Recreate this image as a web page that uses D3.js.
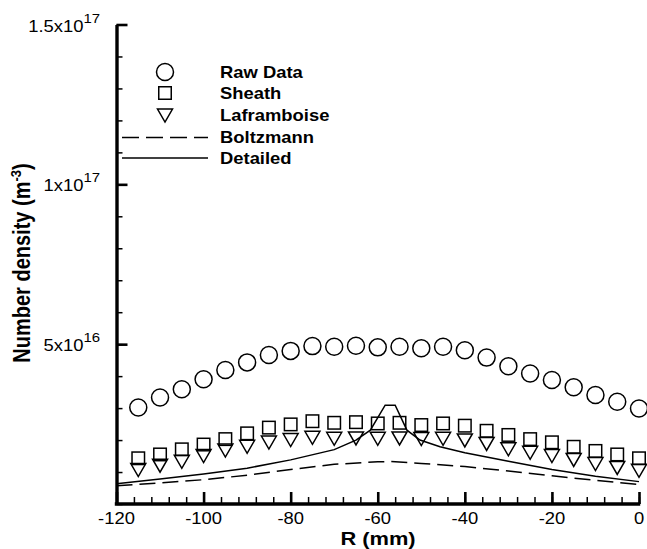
<!DOCTYPE html>
<html>
<head>
<meta charset="utf-8">
<script src="https://cdn.jsdelivr.net/npm/d3@7"></script>
<style>
  body { margin: 0; background: #fff; }
  svg { display: block; font-family: "Liberation Sans", Arial, Helvetica, sans-serif; }
</style>
</head>
<body>
<svg width="647" height="549"></svg>
<script>
'use strict';

// values, densities in units of 1e16 m^-3
var radius = [-115, -110, -105, -100, -95, -90, -85, -80, -75, -70, -65, -60,
              -55, -50, -45, -40, -35, -30, -25, -20, -15, -10, -5, 0];
var rawData = [3.02, 3.33, 3.59, 3.90, 4.19, 4.43, 4.66, 4.79, 4.94, 4.92, 4.95, 4.90,
               4.92, 4.87, 4.92, 4.81, 4.58, 4.31, 4.08, 3.88, 3.65, 3.41, 3.20, 2.99];
var sheath = [1.43, 1.55, 1.71, 1.86, 2.03, 2.21, 2.39, 2.49, 2.59, 2.54, 2.56, 2.52,
              2.54, 2.47, 2.52, 2.45, 2.29, 2.16, 2.03, 1.93, 1.79, 1.66, 1.55, 1.43];
var laframboise = [1.06, 1.20, 1.32, 1.50, 1.67, 1.79, 1.92, 2.00, 2.07, 2.04, 2.05, 2.04,
                   2.05, 2.03, 2.04, 1.99, 1.88, 1.71, 1.60, 1.50, 1.38, 1.25, 1.13, 1.04];

var boltzmannR = [-120, -110, -100, -90, -80, -70, -60, -57, -50, -40, -30, -20, -10, 0];
var boltzmann = [0.57, 0.66, 0.76, 0.90, 1.08, 1.24, 1.32, 1.33, 1.27, 1.17, 1.03, 0.88, 0.74, 0.61];

var detailedR = [-120, -110, -100, -90, -80, -70, -65, -61.7, -58.3, -56, -53.3, -50.3, -45.7,
                 -40, -30, -20, -10, 0];
var detailed = [0.63, 0.78, 0.94, 1.12, 1.38, 1.70, 2.00, 2.31, 3.09, 3.09, 2.31, 2.00, 1.79,
                1.60, 1.34, 1.08, 0.87, 0.70];

var xTicks = [-120, -100, -80, -60, -40, -20, 0];
var yTicks = [5, 10, 15];
var yTickBase = ['5x10', '1x10', '1.5x10'];
var yTickExp = ['16', '17', '17'];
var legendNames = ['Raw Data', 'Sheath', 'Laframboise', 'Boltzmann', 'Detailed'];

var svg = d3.select('svg');
var stretch = 1.15; // the picture is a bit wider than tall

var x = d3.scaleLinear().domain([-120, 0]).range([116.5, 639]);
var y = d3.scaleLinear().domain([0, 15]).range([504, 24.5]);

// stretched text helper
function label(g, tx, ty, anchor, size, weight) {
  return g.append('text')
    .attr('transform', 'translate(' + tx + ',' + ty + ') scale(' + stretch + ',1)')
    .attr('text-anchor', anchor)
    .style('font-size', size + 'px')
    .style('font-weight', weight || 'normal')
    .attr('fill', '#000');
}

/* axes */
var minorY = d3.range(0, 16, 1);
var minorX = d3.range(-120, 1, 4);

svg.append('g')
  .attr('transform', 'translate(' + x(-120) + ',0)')
  .call(d3.axisLeft(y).tickValues(minorY).tickSize(-6).tickSizeOuter(0).tickFormat(''))
  .call(function (g) {
    g.select('.domain').remove();
    g.selectAll('line').attr('stroke', '#000').attr('stroke-width', 1.5);
  });
svg.append('g')
  .attr('transform', 'translate(' + x(-120) + ',0)')
  .call(d3.axisLeft(y).tickValues(yTicks).tickSize(-11).tickSizeOuter(0).tickFormat(''))
  .call(function (g) {
    g.select('.domain').attr('stroke', '#000').attr('stroke-width', 3.4);
    g.selectAll('line').attr('stroke', '#000').attr('stroke-width', 2.6);
  });

svg.append('g')
  .attr('transform', 'translate(0,' + y(0) + ')')
  .call(d3.axisBottom(x).tickValues(minorX).tickSize(-7).tickSizeOuter(0).tickFormat(''))
  .call(function (g) {
    g.select('.domain').remove();
    g.selectAll('line').attr('stroke', '#000').attr('stroke-width', 1.5);
  });
svg.append('g')
  .attr('transform', 'translate(0,' + y(0) + ')')
  .call(d3.axisBottom(x).tickValues(xTicks).tickSize(-12).tickSizeOuter(0).tickFormat(''))
  .call(function (g) {
    g.select('.domain').attr('stroke', '#000').attr('stroke-width', 3.4)
      .attr('d', 'M' + (x(-120) - 1.7) + ',0H' + (x(0) + 1.2));
    g.selectAll('line').attr('stroke', '#000').attr('stroke-width', 2.6);
  });

/* tick labels */
xTicks.forEach(function (t) {
  label(svg, x(t), 524, 'middle', 16).text(t);
});
yTicks.forEach(function (t, i) {
  var tx = label(svg, 100, y(t) + 7, 'end', 16);
  tx.append('tspan').text(yTickBase[i]);
  tx.append('tspan').attr('dy', -9).style('font-size', '13px').text(yTickExp[i]);
});

/* axis titles */
label(svg, 378, 545, 'middle', 19, 'bold').text('R (mm)');
var yt = svg.append('text')
  .attr('transform', 'translate(30,263) scale(' + stretch + ',1) rotate(-90)')
  .attr('text-anchor', 'middle')
  .style('font-size', '20px')
  .style('font-weight', 'bold');
yt.append('tspan').text('Number density (m');
yt.append('tspan').attr('dy', -8).style('font-size', '13px').text('-3');
yt.append('tspan').attr('dy', 8).text(')');

/* lines */
function lineFor(xs) {
  return d3.line()
    .x(function (d, i) { return x(xs[i]); })
    .y(function (d) { return y(d); });
}
svg.append('path')
  .datum(boltzmann)
  .attr('d', lineFor(boltzmannR))
  .attr('fill', 'none')
  .attr('stroke', '#000')
  .attr('stroke-width', 1.5)
  .attr('stroke-dasharray', '16,7');
svg.append('path')
  .datum(detailed)
  .attr('d', lineFor(detailedR))
  .attr('fill', 'none')
  .attr('stroke', '#000')
  .attr('stroke-width', 1.5);

/* markers */
var triangle = 'M-7.5,-6.5L7.5,-6.5L0,6.5Z';

function markers(values, shape) {
  var g = svg.append('g')
    .attr('fill', 'none')
    .attr('stroke', '#000')
    .attr('stroke-width', 1.5);
  var sel = g.selectAll('.m').data(values).enter();
  if (shape === 'circle') {
    sel.append('circle')
      .attr('cx', function (d, i) { return x(radius[i]); })
      .attr('cy', function (d) { return y(d); })
      .attr('r', 8.5);
  } else if (shape === 'square') {
    sel.append('rect')
      .attr('x', function (d, i) { return x(radius[i]) - 6.25; })
      .attr('y', function (d) { return y(d) - 6.25; })
      .attr('width', 12.5)
      .attr('height', 12.5);
  } else {
    sel.append('path')
      .attr('d', triangle)
      .attr('transform', function (d, i) {
        return 'translate(' + x(radius[i]) + ',' + y(d) + ')';
      });
  }
}
markers(rawData, 'circle');
markers(sheath, 'square');
markers(laframboise, 'triangle');

/* legend */
var legend = svg.append('g');
var legendY = [72, 93, 115.5, 137.5, 158];
var lg = legend.append('g').attr('fill', 'none').attr('stroke', '#000').attr('stroke-width', 1.5);
lg.append('circle').attr('cx', 165).attr('cy', legendY[0]).attr('r', 8.5);
lg.append('rect').attr('x', 165 - 6.25).attr('y', legendY[1] - 6.25).attr('width', 12.5).attr('height', 12.5);
lg.append('path').attr('d', triangle).attr('transform', 'translate(165,' + legendY[2] + ')');
lg.append('line').attr('x1', 122).attr('x2', 208).attr('y1', legendY[3]).attr('y2', legendY[3])
  .attr('stroke-dasharray', '17,7');
lg.append('line').attr('x1', 122).attr('x2', 208).attr('y1', legendY[4]).attr('y2', legendY[4]);

legendNames.forEach(function (name, i) {
  label(legend, 220, legendY[i] + 5.5, 'start', 16, 'bold').text(name);
});
</script>
</body>
</html>
